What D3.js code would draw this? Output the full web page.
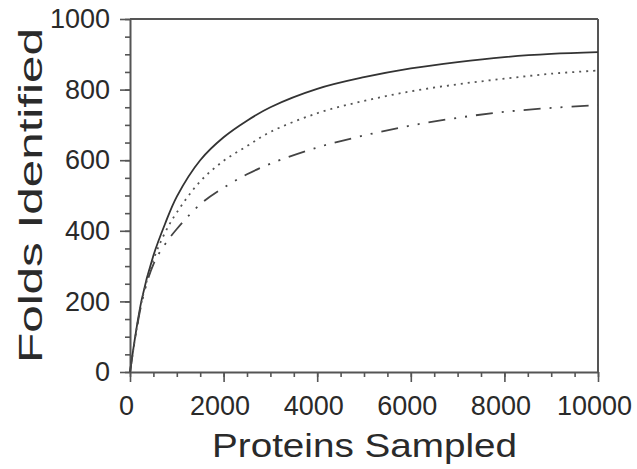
<!DOCTYPE html>
<html>
<head>
<meta charset="UTF-8">
<script src="https://d3js.org/d3.v7.min.js"></script>
<style>
  body { margin: 0; background: #fff; }
  text { font-family: "Liberation Sans", Arial, sans-serif; fill: #2a2a2a; }
</style>
</head>
<body>
<svg width="637" height="469"></svg>
<script>
// values
var proteins = [0, 250, 500, 750, 1000, 1500, 2000, 2500, 3000, 4000, 5000, 6000, 7000, 8000, 9000, 10000];
var foldsSolid = [0, 205, 330, 420, 497, 600, 665, 712, 750, 802, 835, 860, 878, 892, 901, 906];
var foldsDotted = [0, 200, 318, 395, 452, 540, 598, 640, 680, 733, 768, 795, 815, 831, 845, 854];
var foldsDashDot = [0, 196, 305, 362, 405, 475, 522, 560, 590, 636, 670, 698, 720, 737, 748, 756];
var xTicks = [0, 2000, 4000, 6000, 8000, 10000];
var yTicks = [0, 200, 400, 600, 800, 1000];

var svg = d3.select("svg"),
    margin = {top: 19, right: 39, bottom: 97, left: 130},
    width = 637 - margin.left - margin.right,
    height = 469 - margin.top - margin.bottom;

var x = d3.scaleLinear().domain([0, 10000]).range([0, width]),
    y = d3.scaleLinear().domain([0, 1000]).range([height, 0]);

var g = svg.append("g")
    .attr("transform", "translate(" + margin.left + "," + margin.top + ")");

// minor ticks
g.append("g")
  .attr("transform", "translate(0," + height + ")")
  .call(d3.axisBottom(x).tickValues(d3.range(0, 10001, 500)).tickSize(5).tickFormat(""))
  .call(a => a.select(".domain").remove());
g.append("g")
  .call(d3.axisLeft(y).tickValues(d3.range(0, 1001, 50)).tickSize(5).tickFormat(""))
  .call(a => a.select(".domain").remove());

// major ticks + labels
var xAxis = g.append("g")
  .attr("transform", "translate(0," + height + ")")
  .call(d3.axisBottom(x).tickValues(xTicks).tickFormat(d3.format("d"))
    .tickSize(10).tickSizeOuter(0).tickPadding(14));
xAxis.selectAll("text").attr("font-size", 27).attr("dx", -4).attr("fill", "#2a2a2a");

var yAxis = g.append("g")
  .call(d3.axisLeft(y).tickValues(yTicks).tickFormat(d3.format("d"))
    .tickSize(10).tickSizeOuter(0).tickPadding(10));
yAxis.selectAll("text").attr("font-size", 27).attr("fill", "#2a2a2a");

g.selectAll(".tick line").attr("stroke", "#555").attr("stroke-width", 1.6);
g.selectAll(".domain").attr("stroke", "#555").attr("stroke-width", 2);

// top and right frame
g.append("line").attr("x1", 0).attr("x2", width).attr("y1", 0).attr("y2", 0)
  .attr("stroke", "#555").attr("stroke-width", 2);
g.append("line").attr("x1", width).attr("x2", width).attr("y1", 0).attr("y2", height)
  .attr("stroke", "#555").attr("stroke-width", 2);

var line = function(vals) {
  return d3.line()
    .x(function(d, i) { return x(proteins[i]); })
    .y(function(d) { return y(d); })
    .curve(d3.curveCatmullRom.alpha(0.5))(vals);
};

g.append("path").attr("d", line(foldsSolid))
  .attr("fill", "none").attr("stroke", "#333").attr("stroke-width", 1.8);
g.append("path").attr("d", line(foldsDotted))
  .attr("fill", "none").attr("stroke", "#555").attr("stroke-width", 1.8)
  .attr("stroke-dasharray", "2,5");
g.append("path").attr("d", line(foldsDashDot))
  .attr("fill", "none").attr("stroke", "#444").attr("stroke-width", 1.8)
  .attr("stroke-dasharray", "17,9,2,9,2,9");

// axis titles
svg.append("text")
  .attr("x", 212).attr("y", 457)
  .attr("font-size", 33)
  .attr("textLength", 305).attr("lengthAdjust", "spacingAndGlyphs")
  .text("Proteins Sampled");

svg.append("text")
  .attr("transform", "translate(42,363) rotate(-90)")
  .attr("font-size", 34)
  .attr("textLength", 335).attr("lengthAdjust", "spacingAndGlyphs")
  .text("Folds Identified");
</script>
</body>
</html>
